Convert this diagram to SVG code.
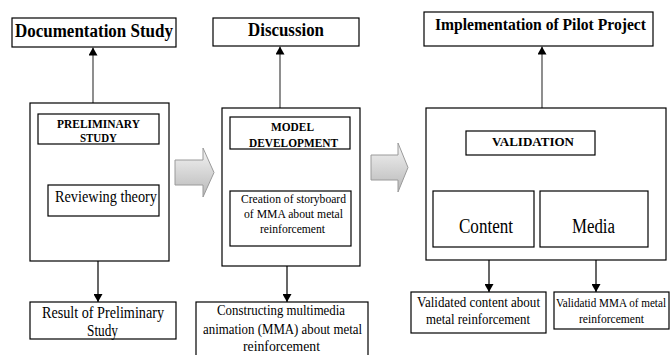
<svg xmlns="http://www.w3.org/2000/svg" width="670" height="355" viewBox="0 0 670 355">
<style>
  .box{fill:#fff;stroke:#000;stroke-width:1.2}
  .t{font-family:'Liberation Serif','DejaVu Serif',serif;fill:#000;text-anchor:middle}
  .b{font-weight:bold}
  .con{stroke:#000;stroke-width:1.2;fill:none}
  .up{stroke:#444}
  .blk{fill:url(#g);stroke:#9a9a9a;stroke-width:1}
</style>
<defs>
  <marker id="ah" markerUnits="userSpaceOnUse" markerWidth="8" markerHeight="9" refX="8" refY="4.5" orient="auto">
    <path d="M0,0 L8,4.5 L0,9 z" fill="#000"/>
  </marker>
  <linearGradient id="g" x1="0" y1="0" x2="0" y2="1">
    <stop offset="0" stop-color="#f4f4f4"/>
    <stop offset="1" stop-color="#b8b8b8"/>
  </linearGradient>
</defs>
<rect width="670" height="355" fill="#fff"/>

<g id="connectors">
  <line class="con up" x1="93" y1="103" x2="93" y2="47.5" marker-end="url(#ah)"/>
  <line class="con up" x1="280" y1="108" x2="280" y2="46.5" marker-end="url(#ah)"/>
  <line class="con up" x1="542" y1="108" x2="542" y2="46.5" marker-end="url(#ah)"/>
  <line class="con" x1="98" y1="261" x2="98" y2="302" marker-end="url(#ah)"/>
  <line class="con" x1="287" y1="266" x2="287" y2="302" marker-end="url(#ah)"/>
  <line class="con" x1="489" y1="247" x2="489" y2="292" marker-end="url(#ah)"/>
  <line class="con" x1="596" y1="247" x2="596" y2="292" marker-end="url(#ah)"/>
  <path class="blk" d="M175,160 H203 V148 L214,172.5 L203,197 V185 H175 Z"/>
  <path class="blk" d="M371,155 H398 V143 L408,167.5 L398,192 V180 H371 Z"/>
</g>

<g id="documentation-study">
  <rect class="box" x="12" y="18" width="164" height="29"/>
  <text class="t b" x="94" y="37" font-size="18" textLength="158" lengthAdjust="spacingAndGlyphs">Documentation Study</text>
</g>
<g id="discussion">
  <rect class="box" x="213" y="18" width="146" height="28"/>
  <text class="t b" x="286" y="36" font-size="18" textLength="76" lengthAdjust="spacingAndGlyphs">Discussion</text>
</g>
<g id="implementation">
  <rect class="box" x="424" y="12" width="229" height="34"/>
  <text class="t b" x="540.5" y="30" font-size="17" textLength="211" lengthAdjust="spacingAndGlyphs">Implementation of Pilot Project</text>
</g>

<g id="preliminary">
  <rect class="box" x="30" y="103" width="139" height="158"/>
  <rect class="box" x="38" y="114" width="121" height="30"/>
  <text class="t b" x="98.5" y="128" font-size="13" textLength="83" lengthAdjust="spacingAndGlyphs">PRELIMINARY</text>
  <text class="t b" x="98.5" y="142" font-size="13" textLength="37" lengthAdjust="spacingAndGlyphs">STUDY</text>
</g>
<g id="reviewing-theory">
  <rect class="box" x="48" y="185" width="111" height="31"/>
  <text class="t" x="106" y="202" font-size="16" textLength="102" lengthAdjust="spacingAndGlyphs">Reviewing theory</text>
</g>
<g id="result">
  <rect class="box" x="30" y="302" width="146" height="37"/>
  <text class="t" x="103" y="318" font-size="16" textLength="122" lengthAdjust="spacingAndGlyphs">Result of Preliminary</text>
  <text class="t" x="102.5" y="336" font-size="16" textLength="31" lengthAdjust="spacingAndGlyphs">Study</text>
</g>

<g id="model-development">
  <rect class="box" x="222" y="108" width="138" height="158"/>
  <rect class="box" x="230" y="117" width="120" height="32"/>
  <text class="t b" x="292.5" y="131" font-size="12" textLength="43" lengthAdjust="spacingAndGlyphs">MODEL</text>
  <text class="t b" x="293.5" y="147" font-size="12" textLength="89" lengthAdjust="spacingAndGlyphs">DEVELOPMENT</text>
</g>
<g id="creation">
  <rect class="box" x="230" y="191" width="121" height="55"/>
  <text class="t" x="293.5" y="203" font-size="12.5" textLength="105" lengthAdjust="spacingAndGlyphs">Creation of storyboard</text>
  <text class="t" x="293.5" y="218" font-size="12.5" textLength="99" lengthAdjust="spacingAndGlyphs">of MMA about metal</text>
  <text class="t" x="292.5" y="233" font-size="12.5" textLength="65" lengthAdjust="spacingAndGlyphs">reinforcement</text>
</g>
<g id="constructing">
  <rect class="box" x="196" y="302" width="172" height="60"/>
  <text class="t" x="281" y="315" font-size="15" textLength="128" lengthAdjust="spacingAndGlyphs">Constructing multimedia</text>
  <text class="t" x="282.5" y="334" font-size="15" textLength="159" lengthAdjust="spacingAndGlyphs">animation (MMA) about metal</text>
  <text class="t" x="281.5" y="351" font-size="15" textLength="77" lengthAdjust="spacingAndGlyphs">reinforcement</text>
</g>

<g id="validation">
  <rect class="box" x="426" y="108" width="240" height="152"/>
  <rect class="box" x="466" y="131" width="129" height="24"/>
  <text class="t b" x="533" y="146" font-size="13" textLength="82" lengthAdjust="spacingAndGlyphs">VALIDATION</text>
</g>
<g id="content">
  <rect class="box" x="433" y="191" width="101" height="56"/>
  <text class="t" x="486" y="233" font-size="20" textLength="54" lengthAdjust="spacingAndGlyphs">Content</text>
</g>
<g id="media">
  <rect class="box" x="540" y="191" width="108" height="56"/>
  <text class="t" x="593.5" y="233" font-size="20" textLength="43" lengthAdjust="spacingAndGlyphs">Media</text>
</g>
<g id="validated-content">
  <rect class="box" x="411" y="292" width="135" height="41"/>
  <text class="t" x="478.5" y="307" font-size="15" textLength="123" lengthAdjust="spacingAndGlyphs">Validated content about</text>
  <text class="t" x="478" y="324" font-size="15" textLength="104" lengthAdjust="spacingAndGlyphs">metal reinforcement</text>
</g>
<g id="validated-mma">
  <rect class="box" x="554" y="292" width="115" height="37"/>
  <text class="t" x="611" y="307" font-size="13" textLength="110" lengthAdjust="spacingAndGlyphs">Validatid MMA of metal</text>
  <text class="t" x="611.5" y="323" font-size="13" textLength="65" lengthAdjust="spacingAndGlyphs">reinforcement</text>
</g>
</svg>
